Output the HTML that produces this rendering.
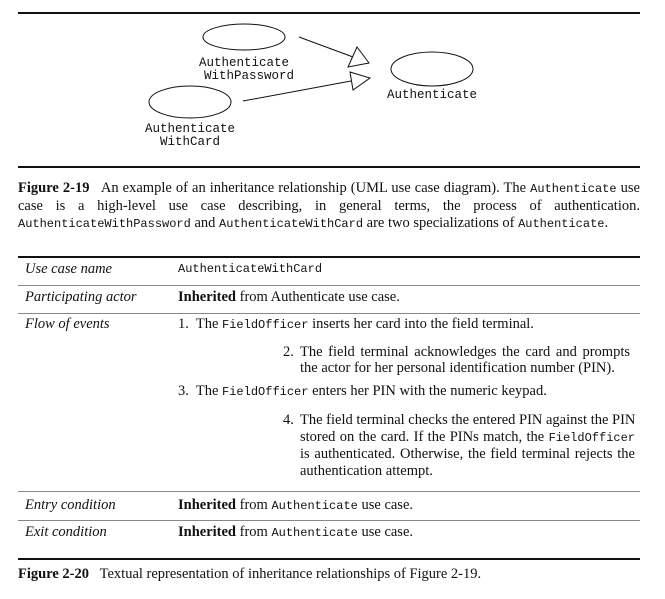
<!DOCTYPE html>
<html><head><meta charset="utf-8"><style>
body{margin:0;width:665px;height:599px;background:#fff;position:relative;overflow:hidden;font-family:"Liberation Serif",serif;font-size:14.5px;color:#111}
.a{position:absolute;white-space:nowrap;line-height:18px}
.m{font-family:"Liberation Mono",monospace;font-size:12px}
.i{font-style:italic}
.l{position:absolute;white-space:nowrap;text-align:justify;text-align-last:justify;line-height:16px}
.rule{position:absolute;left:18px;width:622px;background:#111}
.thin{position:absolute;left:18px;width:622px;height:1px;background:#888}
</style></head><body>
<svg width="665" height="160" style="position:absolute;left:0;top:0" font-family="Liberation Mono, monospace" font-size="12.5" fill="none" stroke="#111" stroke-width="1">
<ellipse cx="244" cy="37" rx="41" ry="13"/>
<ellipse cx="190" cy="102" rx="41" ry="16"/>
<ellipse cx="432" cy="69" rx="41" ry="17"/>
<line x1="299" y1="37" x2="353" y2="57"/>
<polygon points="357,47 348,67 369,63" fill="#fff"/>
<line x1="243" y1="101" x2="351" y2="81"/>
<polygon points="350,72 353,90 370,78" fill="#fff"/>
<g fill="#111" stroke="none" text-anchor="middle">
<text x="244" y="66">Authenticate</text>
<text x="249" y="79">WithPassword</text>
<text x="190" y="132">Authenticate</text>
<text x="190" y="145">WithCard</text>
<text x="432" y="98">Authenticate</text>
</g>
</svg>
<div class="rule" style="top:12px;height:2px"></div>
<div class="rule" style="top:166px;height:2px"></div>
<div class="l" style="left:18px;top:179px;width:622px;line-height:18px"><b>Figure 2-19</b>&nbsp;&nbsp; An example of an inheritance relationship (UML use case diagram). The <span class="m">Authenticate</span> use</div>
<div class="l" style="left:18px;top:197px;width:622px;line-height:18px">case is a high-level use case describing, in general terms, the process of authentication.</div>
<div class="a" style="left:18px;top:214px"><span class="m">AuthenticateWithPassword</span> and <span class="m">AuthenticateWithCard</span> are two specializations of <span class="m">Authenticate</span>.</div>
<div class="rule" style="top:256px;height:2px"></div>
<div class="a i" style="left:25px;top:260px">Use case name</div>
<div class="a m" style="left:178px;top:260px">AuthenticateWithCard</div>
<div class="thin" style="top:285px"></div>
<div class="a i" style="left:25px;top:288px">Participating actor</div>
<div class="a" style="left:178px;top:288px"><b>Inherited</b> from Authenticate use case.</div>
<div class="thin" style="top:313px"></div>
<div class="a i" style="left:25px;top:315px">Flow of events</div>
<div class="a" style="left:178px;top:315px">1.&nbsp; The <span class="m">FieldOfficer</span> inserts her card into the field terminal.</div>
<div class="a" style="left:283px;top:344px;line-height:16px">2.</div>
<div class="l" style="left:300px;top:344px;width:330px">The field terminal acknowledges the card and prompts</div>
<div class="a" style="left:300px;top:360px;line-height:16px">the actor for her personal identification number (PIN).</div>
<div class="a" style="left:178px;top:382px">3.&nbsp; The <span class="m">FieldOfficer</span> enters her PIN with the numeric keypad.</div>
<div class="a" style="left:283px;top:412px;line-height:16px">4.</div>
<div class="l" style="left:300px;top:412px;width:335px">The field terminal checks the entered PIN against the PIN</div>
<div class="l" style="left:300px;top:429px;width:335px">stored on the card. If the PINs match, the <span class="m">FieldOfficer</span></div>
<div class="l" style="left:300px;top:446px;width:335px">is authenticated. Otherwise, the field terminal rejects the</div>
<div class="a" style="left:300px;top:463px;line-height:16px">authentication attempt.</div>
<div class="thin" style="top:491px"></div>
<div class="a i" style="left:25px;top:496px">Entry condition</div>
<div class="a" style="left:178px;top:496px"><b>Inherited</b> from <span class="m">Authenticate</span> use case.</div>
<div class="thin" style="top:520px"></div>
<div class="a i" style="left:25px;top:523px">Exit condition</div>
<div class="a" style="left:178px;top:523px"><b>Inherited</b> from <span class="m">Authenticate</span> use case.</div>
<div class="rule" style="top:558px;height:2px"></div>
<div class="a" style="left:18px;top:565px"><b>Figure 2-20</b>&nbsp;&nbsp; Textual representation of inheritance relationships of Figure 2-19.</div>
</body></html>
